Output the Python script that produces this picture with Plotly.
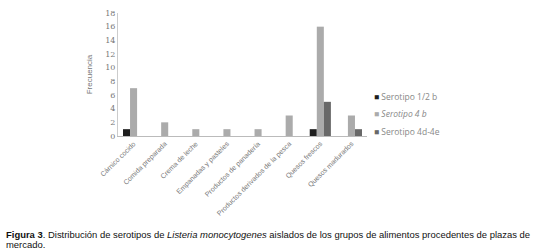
import plotly.graph_objects as go

categories = ["Cárnico cocido", "Comida preparada", "Crema de leche", "Empanadas y pasteles",
              "Productos de panadería", "Productos derivados de la pesca", "Quesos frescos", "Quesos madurados"]
s_12b = [1, 0, 0, 0, 0, 0, 1, 0]
s_4b = [7, 2, 1, 1, 1, 3, 16, 3]
s_4d4e = [0, 0, 0, 0, 0, 0, 5, 1]
series_names = ["Serotipo 1/2 b", "<i>Serotipo 4 b</i>", "Serotipo 4d-4e"]
colors = ["#1e1e1e", "#ababab", "#686868"]
caption_1 = ("<b>Figura 3</b>. Distribución de serotipos de <i>Listeria monocytogenes</i> aislados de los "
             "grupos de alimentos procedentes de plazas de")
caption_2 = "mercado."

fig = go.Figure()
for name, vals, c in zip(series_names, [s_12b, s_4b, s_4d4e], colors):
    fig.add_trace(go.Bar(x=categories, y=vals, name=name, showlegend=False,
                         marker=dict(color=c, line=dict(width=0))))

# legend drawn as text entries
legend_ann = []
for i, (name, c) in enumerate(zip(series_names, colors)):
    legend_ann.append(dict(
        xref="paper", yref="paper", x=(372 - 118) / 249, y=(137 - (97 + 17.5 * i)) / 123,
        xanchor="left", yanchor="middle", showarrow=False, align="left",
        font=dict(size=8.5, color="#888888", family="Open Sans"),
        text=f"<span style='color:{c}'>■</span> {name}"))

cap_font = dict(size=9.45, color="#111111", family="Liberation Sans, Arial")
fig.update_layout(
    width=535, height=250,
    margin=dict(l=118, r=168, t=13, b=114, autoexpand=False),
    barmode="group", bargap=0.32, bargroupgap=0,
    plot_bgcolor="white", paper_bgcolor="white",
    font=dict(family="Liberation Sans, Arial", size=7, color="#777777"),
    showlegend=False,
    xaxis=dict(tickangle=-45, showline=True, linecolor="#bbbbbb", linewidth=1, automargin=False,
               ticks="", tickfont=dict(size=7, color="#777777"), showgrid=False),
    yaxis=dict(range=[0, 18], dtick=2, showline=True, linecolor="#cccccc", linewidth=1, automargin=False,
               showgrid=False, zeroline=False, ticks="",
               tickfont=dict(size=8, color="#777777", family="DejaVu Serif"),
               title=dict(text="Frecuencia", font=dict(size=8, color="#777777"), standoff=11)),
    annotations=legend_ann + [
        dict(xref="paper", yref="paper", x=(4 - 118) / 249, y=(137 - 235.5) / 123,
             xanchor="left", yanchor="middle", align="left", showarrow=False,
             font=cap_font, text=caption_1),
        dict(xref="paper", yref="paper", x=(4 - 118) / 249, y=(137 - 245) / 123,
             xanchor="left", yanchor="middle", align="left", showarrow=False,
             font=cap_font, text=caption_2),
    ],
)

fig.write_html("out.html", config={"displayModeBar": False},
               post_script="document.body.style.margin='0';")
